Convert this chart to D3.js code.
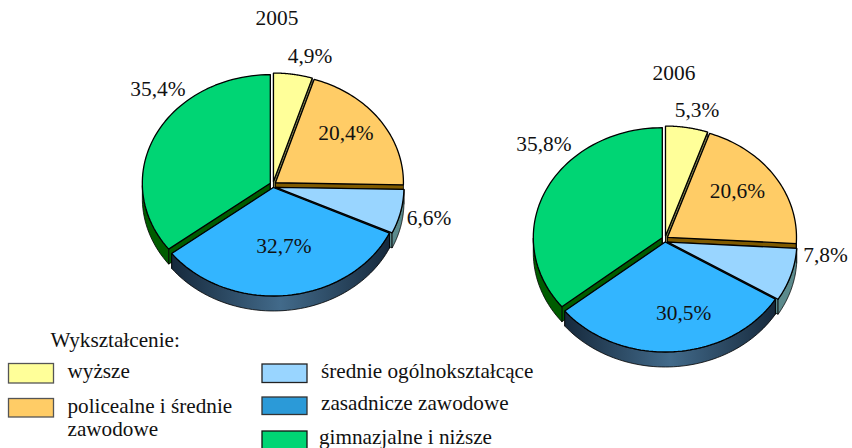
<!DOCTYPE html>
<html><head><meta charset="utf-8">
<script src="https://cdn.jsdelivr.net/npm/d3@7"></script>
<style>html,body{margin:0;background:#fff}svg{display:block}text{font-family:"Liberation Serif";fill:#111}</style>
</head><body><svg id="c" width="852" height="448"></svg>
<script>
const categories=["wyższe","policealne i średnie zawodowe","średnie ogólnokształcące","zasadnicze zawodowe","gimnazjalne i niższe"];
const years=["2005","2006"];
const values2005=[4.9,20.4,6.6,32.7,35.4];
const values2006=[5.3,20.6,7.8,30.5,35.8];
const topColors=["#FFFF99","#FFCC66","#99D5FF","#33B5FF","#00D574"];
const cutColors=["#7f7f4c","#7f5a00","#5b8a8c","#1c3348","#005c00"];
const legendColors=["#FFFF99","#FFCC66","#99D5FF","#2B9AD8","#00D574"];
const pieLayouts=[
 {cx:273,cy:184.5,rx:128,ry:108.5,title:[277,25],labels:[[310,63],[346,140],[429,225],[284,253],[158,96]]},
 {cx:665,cy:239,rx:129,ry:110,title:[674,80],labels:[[697,117],[737.5,198],[825.5,262],[683.7,320],[544,151]]}
];
const sliceDropY=[0,0,2.2,0,0];
const depth=15,explode=3,fs=21.4,lfs=21.2;
const fmt=v=>String(v.toFixed(1)).replace(".",",")+"%";
const svg=d3.select("#c");
const defs=svg.append("defs");
function grad(id,stops){const g=defs.append("linearGradient").attr("id",id);
 stops.forEach(s=>g.append("stop").attr("offset",s[0]).attr("stop-color",s[1]));}
grad("wallBlue",[[0,"#16293c"],[0.5,"#426a8a"],[1,"#16293c"]]);
const line=d3.line();
const pie=d3.pie().sort(null);
[values2005,values2006].forEach((vals,yi)=>{
 const L=pieLayouts[yi];
 const sx=d3.scaleLinear().domain([-1,1]).range([L.cx-L.rx,L.cx+L.rx]);
 const sy=d3.scaleLinear().domain([-1,1]).range([L.cy-L.ry,L.cy+L.ry]);
 const arcs=pie(vals);
 const g=svg.append("g");
 [0,1,2,4,3].forEach(i=>{
  const a=arcs[i],mid=(a.startAngle+a.endAngle)/2;
  const ox=explode*Math.sin(mid),oy=-explode*Math.cos(mid)+sliceDropY[i];
  const P=(t,r=1,h=0)=>[sx(r*Math.sin(t))+ox,sy(-r*Math.cos(t))+oy+h];
  const rim=d3.range(0,61).map(k=>a.startAngle+(a.endAngle-a.startAngle)*k/60);
  [a.startAngle,a.endAngle].forEach(t=>{
   g.append("path").attr("d",line([P(t,0),P(t),P(t,1,depth),P(t,0,depth)])+"Z")
    .attr("fill",cutColors[i]).attr("stroke","#000").attr("stroke-width",0.8);
  });
  const fr=rim.filter(t=>Math.cos(t)<=0);
  if(fr.length>1){
   g.append("path").attr("d",line(fr.map(t=>P(t)).concat(fr.slice().reverse().map(t=>P(t,1,depth))))+"Z")
    .attr("fill",i===3?"url(#wallBlue)":cutColors[i]).attr("stroke","#000").attr("stroke-width",0.8);
  }
  g.append("path").attr("d",line([P(0,0)].concat(rim.map(t=>P(t))))+"Z")
   .attr("fill",topColors[i]).attr("stroke","#000").attr("stroke-width",1.3).attr("stroke-linejoin","round");
 });
 g.append("text").attr("x",L.title[0]).attr("y",L.title[1]).attr("text-anchor","middle").attr("font-size",fs).text(years[yi]);
 vals.forEach((v,i)=>g.append("text").attr("x",L.labels[i][0]).attr("y",L.labels[i][1]).attr("text-anchor","middle").attr("font-size",fs).text(fmt(v)));
});
const lg=svg.append("g");
lg.append("text").attr("x",50.5).attr("y",347).attr("font-size",lfs).text("Wykształcenie:");
const legendBoxes=[[8.5,363.5,45,19.5],[8.5,398.5,45,18.5],[262,364,45,18.5],[262,397,45,17.5],[262,431,45,20]];
const legendText=[[67.5,378,["wyższe"]],[67.5,413,["policealne i średnie","zawodowe"]],[321,378,["średnie ogólnokształcące"]],[321,410,["zasadnicze zawodowe"]],[319,444,["gimnazjalne i niższe"]]];
const legendStroke=["#555","#555","#222","#333","#111"];
categories.forEach((c,i)=>{
 const b=legendBoxes[i];
 lg.append("rect").attr("x",b[0]).attr("y",b[1]).attr("width",b[2]).attr("height",b[3]).attr("fill",legendColors[i]).attr("stroke",legendStroke[i]).attr("stroke-width",1.3);
 legendText[i][2].forEach((t,k)=>lg.append("text").attr("x",legendText[i][0]).attr("y",legendText[i][1]+k*23).attr("font-size",lfs).text(t));
});
</script></body></html>
